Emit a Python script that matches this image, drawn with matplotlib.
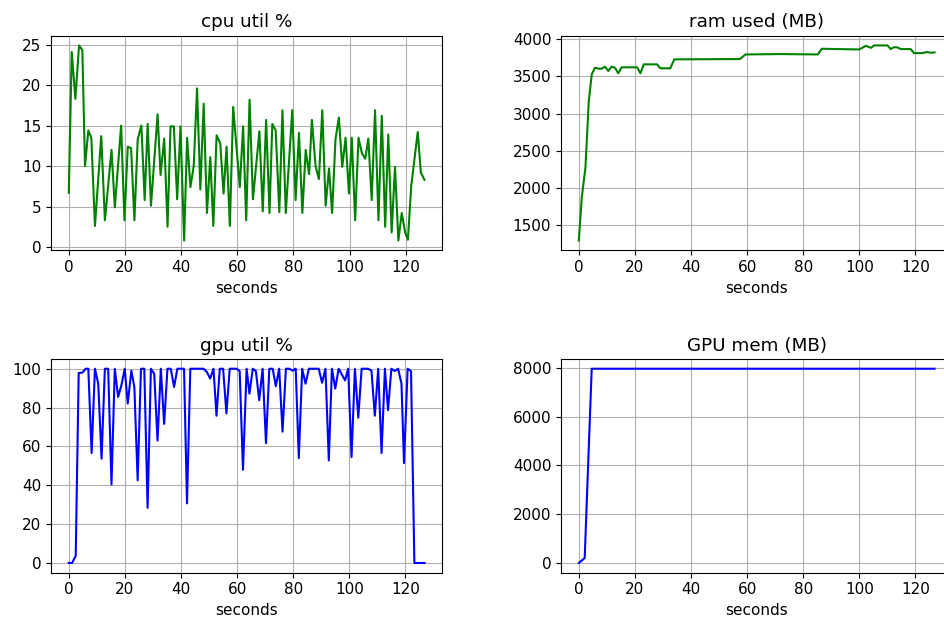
import matplotlib
matplotlib.use("Agg")
import matplotlib.pyplot as plt

plt.rcParams['font.size'] = 11

# cpu util % (sample times in seconds, values)
cpu_t = [0, 1.06, 2.36, 3.66, 4.84, 5.79, 6.97, 8.03, 9.33, 11.57, 12.87, 15.23, 16.41,
         18.65, 19.83, 21.02, 22.20, 23.38, 24.56, 25.86, 27.04, 28.10, 29.28, 31.64,
         32.70, 34.00, 35.18, 36.25, 37.43, 38.61, 39.79, 41.09, 42.15, 43.33, 44.51,
         45.69, 46.87, 48.05, 49.23, 50.41, 51.48, 52.66, 53.96, 55.14, 56.20, 57.38,
         58.56, 60.92, 62.10,
         63.2, 64.4, 65.6, 67.9, 69.1, 70.3, 71.5, 72.5, 73.7, 75.0, 76.1, 77.3, 79.6,
         80.8, 82.0, 83.2, 84.4, 85.6, 86.6, 87.9, 89.1, 90.3, 91.5, 92.7, 93.8, 95.0,
         96.2, 97.4, 98.6, 99.8, 100.8, 102.0, 103.2, 104.4, 105.6, 106.7, 107.9, 109.1,
         110.3, 111.5, 112.7, 113.8, 115.0, 116.2, 117.4, 118.6, 119.8, 120.8, 122.0,
         124.3, 125.4, 126.7]
cpu = [6.7, 24.1, 18.3, 24.9, 24.3, 10.0, 14.4, 13.5, 2.6, 13.7, 3.3, 12.0, 4.9,
       15.0, 3.3, 12.4, 12.2, 3.3, 13.3, 15.0, 5.8, 15.2, 5.1, 16.4,
       8.9, 13.4, 2.5, 14.9, 14.9, 5.9, 14.9, 0.8, 13.5, 7.4, 10.0,
       19.6, 7.1, 17.7, 4.2, 11.1, 2.6, 13.8, 12.8, 6.6, 12.4, 2.6,
       17.3, 7.4, 14.9,
       3.3, 18.2, 5.9, 14.3, 4.4, 15.7, 4.2, 15.2, 14.4, 4.3, 16.9, 4.2, 16.9,
       5.8, 14.1, 4.2, 12.0, 9.0, 15.7, 10.0, 8.4, 16.9, 5.1, 9.7, 4.2, 13.3,
       16.0, 9.9, 13.5, 6.6, 13.5, 3.3, 13.5, 11.6, 10.9, 13.4, 5.8, 16.9,
       3.3, 16.2, 2.5, 13.9, 1.8, 9.9, 0.8, 4.2, 1.8, 0.9, 7.6,
       14.2, 9.2, 8.3]

# ram used (MB)
ram_t = [0, 1.06, 2.36, 3.55, 4.61, 5.79, 6.97, 8.16, 9.34, 10.52, 11.70, 12.88, 14.07,
         15.25, 20.80, 21.99, 23.17, 27.90, 29.08, 32.62, 34.04, 57.45, 59.46, 71.63,
         85.22, 86.64, 100.0, 102.36, 104.14, 105.32, 110.05, 111.23, 112.41, 113.59,
         114.78, 118.32, 119.50, 122.46, 124.23, 125.41, 126.83]
ram = [1296, 1874, 2274, 3164, 3528, 3617, 3604, 3604, 3631, 3573, 3631, 3617, 3542,
       3622, 3622, 3542, 3662, 3662, 3609, 3609, 3729, 3733, 3795, 3800,
       3795, 3871, 3862, 3911, 3884, 3916, 3916, 3867, 3893, 3889,
       3867, 3867, 3813, 3813, 3827, 3818, 3822]

# gpu util %
gpu_t = [0, 1.18, 2.48, 3.54, 4.84, 6.02, 6.97, 8.15, 9.33, 10.51, 11.69, 12.87, 14.05,
         15.23, 16.41, 17.59, 18.77, 19.95, 21.02, 22.31, 23.38, 24.56, 25.74, 26.92,
         28.10, 29.28, 30.46, 31.64, 32.82, 34.00, 35.18, 36.36, 37.54, 38.72, 41.09,
         42.15, 43.33, 48.05, 49.23, 50.41, 51.59, 52.66, 53.84, 55.02, 56.20, 57.38,
         59.74, 60.92, 62.10,
         63.4, 64.4, 65.6, 66.7, 67.9, 69.1, 70.3, 71.5, 72.7, 73.8, 75.0, 76.2, 77.4,
         78.6, 79.8, 80.9, 82.0, 83.2, 84.4, 85.6, 89.1, 90.3, 91.5, 92.7, 93.8, 95.0,
         96.2, 98.5, 99.6, 100.8, 102.0, 103.2, 104.4, 106.7, 107.9, 109.1, 110.3,
         111.5, 112.7, 113.8, 115.0, 116.2, 117.4, 118.6, 119.5, 120.8, 122.0, 123.2,
         126.8]
gpu = [0, 0, 3.7, 97.8, 98, 100, 100, 56.6, 100, 92.3, 53.7, 100, 100,
       40.4, 100, 85.5, 91.5, 100, 82.1, 99, 90.6, 42.6, 100, 100,
       28.4, 100, 97.4, 63, 100, 71.6, 100, 100, 90.6, 100, 100,
       30.7, 100, 100, 98.3, 94.9, 100, 75.8, 100, 100, 77, 100,
       100, 98.8, 48,
       100, 87.2, 100, 98.8, 83.8, 100, 61.7, 100, 100, 91, 100, 67.6, 100,
       100, 99, 100, 54, 100, 92.3, 100, 100, 92.8, 100, 52.8, 100, 89.8,
       100, 94, 100, 54.5, 100, 74.8, 100, 100, 99, 75.8, 100,
       56.6, 100, 78.7, 100, 98.8, 100, 92.3, 51.4, 100, 98.8, 0,
       0]

# GPU mem (MB)
gmem_t = [0, 2.1, 4.6, 126.8]
gmem = [0, 204, 7970, 7970]

fig = plt.figure(figsize=(9.44, 6.27), dpi=100)

left, right = 0.054, 0.5943
w = 0.4145
ax1 = fig.add_axes([left, 0.6008, w, 0.3423])
ax2 = fig.add_axes([right, 0.6008, w, 0.3423])
ax3 = fig.add_axes([left, 0.0866, w, 0.3408])
ax4 = fig.add_axes([right, 0.0866, w, 0.3408])

ax1.plot(cpu_t, cpu, 'g')
ax1.set_title('cpu util %')
ax2.plot(ram_t, ram, 'g')
ax2.set_title('ram used (MB)')
ax3.plot(gpu_t, gpu, 'b')
ax3.set_title('gpu util %')
ax4.plot(gmem_t, gmem, 'b')
ax4.set_title('GPU mem (MB)')

for ax in [ax1, ax2, ax3, ax4]:
    ax.set_xlabel('seconds')
    ax.grid(True)
    ax.set_xticks([0, 20, 40, 60, 80, 100, 120])

fig.savefig('out.png', dpi=100)
